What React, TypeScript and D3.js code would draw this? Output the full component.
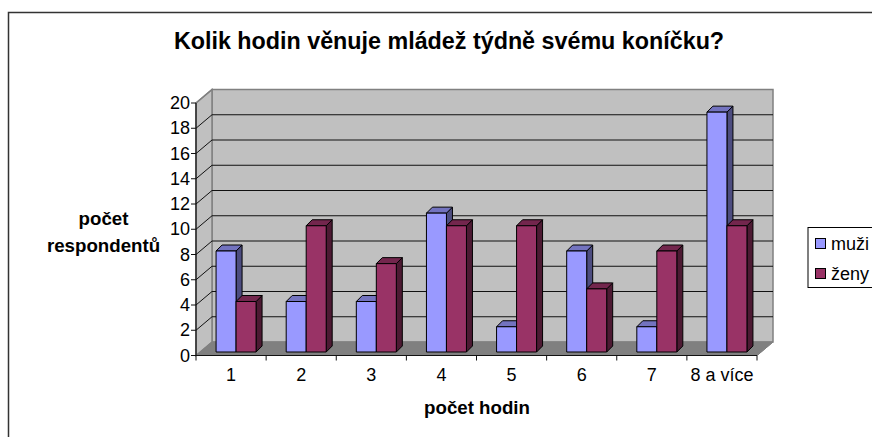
import React from "react";
import * as d3 from "d3";

const categories = ["1", "2", "3", "4", "5", "6", "7", "8 a více"];
const muzi = [8, 4, 4, 11, 2, 8, 2, 19];
const zeny = [4, 10, 7, 10, 10, 5, 8, 10];
const yTicks = [0, 2, 4, 6, 8, 10, 12, 14, 16, 18, 20];
const seriesNames = ["muži", "ženy"];
const title = "Kolik hodin věnuje mládež týdně svému koníčku?";

const FONT = "'Liberation Sans', Arial, sans-serif";
const depthX = 16;
const depthY = 13.5;
const x = d3.scaleBand().domain(categories).range([196, 757]);
const y = d3.scaleLinear().domain([0, 20]).range([355.5, 103]);

const pts = (p: number[][]) => p.map((q) => q.join(",")).join(" ");

function Bar({ x0, w, v, fill, top, side }: { x0: number; w: number; v: number; fill: string; top: string; side: string }) {
  const bx = x0 + 5;
  const base = y(0) - 3.5;
  const ty = base - (y(0) - y(v));
  const dx = 6;
  const dy = 6;
  return (
    <g stroke="#000" strokeWidth={1} strokeLinejoin="round">
      <polygon points={pts([[bx + w, ty], [bx + w + dx, ty - dy], [bx + w + dx, base - dy], [bx + w, base]])} fill={side} />
      <polygon points={pts([[bx, ty], [bx + dx, ty - dy], [bx + w + dx, ty - dy], [bx + w, ty]])} fill={top} />
      <rect x={bx} y={ty} width={w} height={base - ty} fill={fill} />
    </g>
  );
}

export default function App() {
  const [left, right] = x.range();
  const band = x.bandwidth();
  const barW = 20;
  return (
    <svg width={872} height={437} style={{ position: "absolute", left: 0, top: 0 }} fontFamily={FONT}>
      <rect x={0} y={0} width={872} height={437} fill="#fff" />
      <path d="M8.5,437V12.5H872" fill="none" stroke="#333" strokeWidth={1.5} />
      <text x={449} y={49} textAnchor="middle" fontWeight="bold" fontSize={23.3} fill="#000">{title}</text>

      {/* walls */}
      <polygon points={pts([[left + depthX, y(20) - depthY], [right + depthX, y(20) - depthY], [right + depthX, y(0) - depthY], [left + depthX, y(0) - depthY]])} fill="#C0C0C0" stroke="#808080" strokeWidth={1.5} />
      <polygon points={pts([[left, y(20)], [left + depthX, y(20) - depthY], [left + depthX, y(0) - depthY], [left, y(0)]])} fill="#C0C0C0" stroke="#808080" strokeWidth={1.5} />
      <polygon points={pts([[left, y(0)], [left + depthX, y(0) - depthY], [right + depthX, y(0) - depthY], [right, y(0)]])} fill="#808080" stroke="#808080" />

      {/* gridlines */}
      {yTicks.filter((t) => t > 0 && t < 20).map((t) => (
        <path key={t} d={`M${left},${y(t)}L${left + depthX},${y(t) - depthY}H${right + depthX}`} fill="none" stroke="#111" strokeWidth={1} />
      ))}
      <path d={`M${left},${y(20)}L${left + depthX},${y(20) - depthY}`} stroke="#808080" strokeWidth={1.5} />

      {/* bars */}
      {categories.map((c, i) => {
        const cx = x(c)! + band / 2;
        return (
          <g key={c}>
            <Bar x0={cx - barW} w={barW} v={muzi[i]} fill="#9999FF" top="#7373BF" side="#4D4D80" />
            <Bar x0={cx} w={barW} v={zeny[i]} fill="#993366" top="#73264D" side="#4D1A33" />
          </g>
        );
      })}

      {/* axes */}
      <path d={`M${left},${y(20)}V${y(0)}H${right}`} fill="none" stroke="#111" strokeWidth={1.2} />
      {yTicks.map((t) => (
        <g key={t}>
          <line x1={left - 5} x2={left} y1={y(t)} y2={y(t)} stroke="#111" />
          <text x={left - 6} y={y(t) + 6} textAnchor="end" fontSize={18} fill="#000">{t}</text>
        </g>
      ))}
      {categories.map((c) => (
        <g key={c}>
          <line x1={x(c)!} x2={x(c)!} y1={y(0)} y2={y(0) + 5} stroke="#111" />
          <text x={x(c)! + band / 2} y={381} textAnchor="middle" fontSize={18} fill="#000">{c}</text>
        </g>
      ))}
      <line x1={right} x2={right} y1={y(0)} y2={y(0) + 5} stroke="#111" />
      <path d={`M${right},${y(0)}L${right + depthX},${y(0) - depthY}`} stroke="#808080" fill="none" />

      {/* axis titles */}
      <text textAnchor="middle" fontWeight="bold" fontSize={18.7} fill="#000">
        <tspan x={103.5} y={225}>počet</tspan>
        <tspan x={103.5} y={252}>respondentů</tspan>
      </text>
      <text x={477} y={414} textAnchor="middle" fontWeight="bold" fontSize={18.7} fill="#000">počet hodin</text>

      {/* legend */}
      <rect x={808} y={227.5} width={80} height={60} fill="#fff" stroke="#000" />
      {seriesNames.map((s, i) => (
        <g key={s}>
          <rect x={815.5} y={238.5 + i * 30} width={10} height={10} fill={i === 0 ? "#9999FF" : "#993366"} stroke="#000" />
          <text x={831} y={250 + i * 30} fontSize={18} fill="#000">{s}</text>
        </g>
      ))}
    </svg>
  );
}
